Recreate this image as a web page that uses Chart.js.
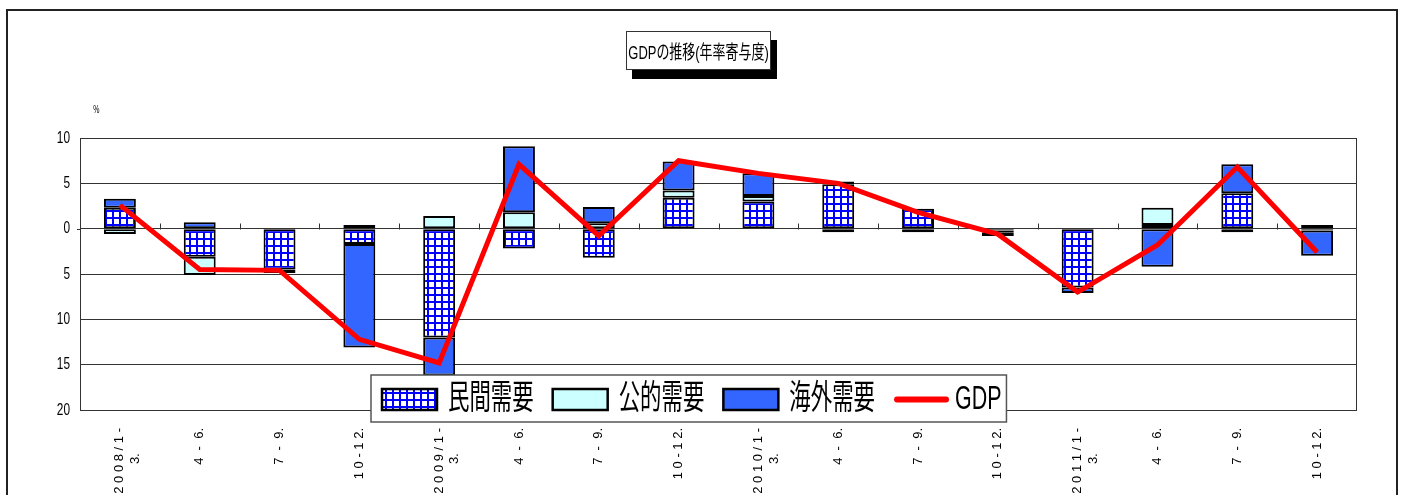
<!DOCTYPE html>
<html>
<head>
<meta charset="utf-8">
<script src="https://cdn.jsdelivr.net/npm/chart.js@4.4.1/dist/chart.umd.min.js"></script>
<style>
  body { margin: 0; background: #fff; }
  #wrap { position: relative; width: 1404px; height: 495px; overflow: hidden; }
  canvas { position: absolute; left: 0; top: 0; }
  #frame { position: absolute; left: 6px; top: 9px; width: 1388px; height: 600px; border: 2px solid #222; pointer-events: none; }
  #title { position: absolute; left: 626px; top: 31px; width: 143px; height: 37px; border: 1px solid #333; background: #fff;
           box-shadow: 6px 9px 0 #000; display: flex; align-items: center; justify-content: center; }
  #title span { display: inline-block; white-space: nowrap; font: 18px "Liberation Sans", "Noto Sans CJK JP", sans-serif; transform: scale(0.72, 1.05); }
  #unit { position: absolute; left: 92px; top: 104px; font: 10px "Liberation Sans", sans-serif; transform: scale(0.7, 1.1); }
</style>
</head>
<body>
<div id="wrap">
  <canvas id="gdp-chart" width="1404" height="495"></canvas>
  <div id="frame"></div>
  <div id="title"><span>GDPの推移(年率寄与度)</span></div>
  <div id="unit">%</div>
</div>
<script>
// 四半期ラベル（表示どおりの字間）
const categories = [
  ['2 0 0 8 / 1 -', '3.       '], '4  -  6.', '7  -  9.', '1 0 - 1 2.',
  ['2 0 0 9 / 1 -', '3.       '], '4  -  6.', '7  -  9.', '1 0 - 1 2.',
  ['2 0 1 0 / 1 -', '3.       '], '4  -  6.', '7  -  9.', '1 0 - 1 2.',
  ['2 0 1 1 / 1 -', '3.       '], '4  -  6.', '7  -  9.', '1 0 - 1 2.'
];
const privateDemand  = [2.3, -3.1, -4.5, -1.7, -12.0, -2.2, -3.2, 3.4, 3.0, 4.9, 2.2, -0.2, -6.5, 0.4, 3.9, -0.2];
const publicDemand   = [-0.6, -2.0, 0.0, 0.4, 1.4, 1.8, 0.6, 0.8, 0.6, 0.3, 0.0, -0.2, 0.0, 1.9, -0.4, 0.4];
const externalDemand = [1.0, 0.7, -0.4, -11.4, -4.2, 7.3, 1.8, 3.2, 2.5, -0.4, -0.4, -0.4, -0.6, -4.2, 3.2, -2.8];
const gdp            = [2.6, -4.5, -4.6, -12.2, -14.8, 7.1, -0.8, 7.5, 6.1, 5.0, 1.8, -0.6, -7.0, -1.8, 6.8, -2.6];
const yTicks = [10, 5, 0, -5, -10, -15, -20];
const seriesNames = ['民間需要', '公的需要', '海外需要', 'GDP'];

const canvas = document.getElementById('gdp-chart');
const ctx = canvas.getContext('2d');

// 民間需要の格子模様
function gridPattern() {
  const c = document.createElement('canvas');
  c.width = 7; c.height = 7;
  const g = c.getContext('2d');
  g.fillStyle = '#fff';
  g.fillRect(0, 0, 7, 7);
  g.fillStyle = '#0000ff';
  g.fillRect(0, 0, 7, 2);
  g.fillRect(0, 0, 2, 7);
  return ctx.createPattern(c, 'repeat');
}

// 枠線、ゼロ線上の目盛り、細身の縦軸ラベル
const frameAndTicks = {
  id: 'frameAndTicks',
  beforeDatasetsDraw(chart) {
    const { ctx, chartArea: a, scales: { x, y } } = chart;
    ctx.save();
    ctx.strokeStyle = '#333';
    ctx.lineWidth = 1;
    ctx.strokeRect(a.left + 0.5, a.top + 0.5, a.right - a.left - 1, a.bottom - a.top);
    const y0 = Math.round(y.getPixelForValue(0)) + 0.5;
    ctx.beginPath();
    for (let i = 1; i < categories.length; i++) {
      const px = Math.round((x.getPixelForValue(i - 1) + x.getPixelForValue(i)) / 2) + 0.5;
      ctx.moveTo(px, y0);
      ctx.lineTo(px, y0 - 6);
    }
    ctx.moveTo(a.left, y0);
    ctx.lineTo(a.left - 3, y0);
    ctx.stroke();

    ctx.fillStyle = '#000';
    ctx.font = '16px "Liberation Sans", Arial, sans-serif';
    ctx.textAlign = 'right';
    ctx.textBaseline = 'middle';
    y.ticks.forEach(t => {
      ctx.save();
      ctx.translate(a.left - 10, y.getPixelForValue(t.value));
      ctx.scale(0.74, 1.05);
      ctx.fillText(String(Math.abs(t.value)), 0, 0);
      ctx.restore();
    });
    ctx.restore();
  }
};

// グラフ内に重ねる凡例
const boxLegend = {
  id: 'boxLegend',
  afterDraw(chart) {
    const ctx = chart.ctx;
    const left = 371, top = 375, h = 47, mid = top + h / 2 + 1;
    const sx = 0.63;
    ctx.save();
    ctx.font = '34px "Liberation Sans", "Noto Sans CJK JP", sans-serif';
    const items = chart.data.datasets.map(ds => ({
      ds, w: ctx.measureText(ds.label).width * sx, gap: ds.type === 'line' ? 61 : 66
    }));
    const total = items.reduce((s, it) => s + it.gap + it.w + 19, 0) - 19 + 11 + 5;
    ctx.fillStyle = '#fff';
    ctx.fillRect(left, top, total, h);
    ctx.strokeStyle = '#555';
    ctx.lineWidth = 1.5;
    ctx.strokeRect(left, top, total, h);

    let xPos = left + 11;
    items.forEach(({ ds, w, gap }) => {
      if (ds.type === 'line') {
        ctx.strokeStyle = ds.borderColor;
        ctx.lineWidth = 6;
        ctx.lineCap = 'round';
        ctx.beginPath();
        ctx.moveTo(xPos + 3, mid);
        ctx.lineTo(xPos + 52, mid);
        ctx.stroke();
      } else {
        ctx.fillStyle = ds.backgroundColor;
        ctx.fillRect(xPos, mid - 10.5, 55, 21);
        ctx.strokeStyle = '#000';
        ctx.lineWidth = 2.5;
        ctx.strokeRect(xPos, mid - 10.5, 55, 21);
      }
      ctx.save();
      ctx.fillStyle = '#000';
      ctx.textBaseline = 'middle';
      ctx.translate(xPos + gap, mid);
      ctx.scale(sx, 1);
      ctx.fillText(ds.label, 0, 0);
      ctx.restore();
      xPos += gap + w + 19;
    });
    ctx.restore();
  }
};

function barSet(label, data, color) {
  return {
    label, data,
    backgroundColor: color,
    borderColor: '#000',
    borderWidth: 2,
    borderSkipped: false,
    stack: 'demand',
    order: 1,
    categoryPercentage: 1,
    barPercentage: 0.4
  };
}

new Chart(canvas, {
  type: 'bar',
  data: {
    labels: categories,
    datasets: [
      barSet(seriesNames[0], privateDemand, gridPattern()),
      barSet(seriesNames[1], publicDemand, '#ccffff'),
      barSet(seriesNames[2], externalDemand, '#3366ff'),
      {
        type: 'line',
        label: seriesNames[3],
        data: gdp,
        borderColor: '#ff0000',
        borderWidth: 5,
        pointRadius: 0,
        tension: 0,
        stack: 'gdp',
        order: 0
      }
    ]
  },
  options: {
    responsive: false,
    animation: false,
    layout: { padding: { top: 138, right: 47, left: 0, bottom: 0 } },
    plugins: { legend: { display: false }, tooltip: { enabled: false } },
    scales: {
      x: {
        stacked: true,
        grid: { display: false },
        border: { display: false },
        afterFit: s => { s.height = 85; },
        ticks: {
          autoSkip: false, minRotation: 90, maxRotation: 90, padding: 10, color: '#000',
          font: { family: '"Liberation Sans", Arial, sans-serif', size: 13 }
        }
      },
      y: {
        stacked: true,
        min: -20, max: 10,
        afterBuildTicks: s => { s.ticks = yTicks.map(v => ({ value: v })); },
        afterFit: s => { s.width = 80; },
        grid: { color: '#333', drawTicks: false },
        border: { color: '#000' },
        ticks: { display: false }
      }
    }
  },
  plugins: [frameAndTicks, boxLegend]
});
</script>
</body>
</html>
